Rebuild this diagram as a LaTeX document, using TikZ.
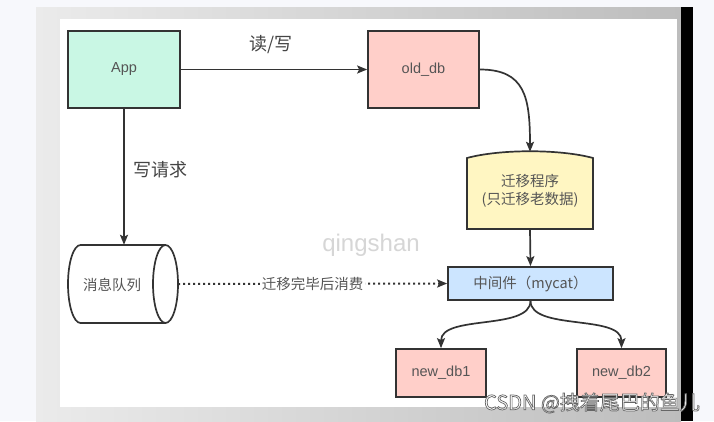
\documentclass[tikz,border=0pt]{standalone}
\usepackage{fontspec}
\setmainfont{Liberation Sans}
\newfontfamily\cjk{Noto Sans CJK SC}
\usetikzlibrary{arrows.meta}
\definecolor{bgout}{HTML}{F7F8FC}
\definecolor{frameL}{HTML}{EBEBEB}
\definecolor{frameR}{HTML}{BDBDBD}
\definecolor{appc}{HTML}{C9F7E4}
\definecolor{dbc}{HTML}{FFCFC9}
\definecolor{migc}{HTML}{FFF6C2}
\definecolor{mwc}{HTML}{CCE5FF}
\definecolor{edge}{HTML}{333333}
\definecolor{txt}{HTML}{555555}
\definecolor{lbl}{HTML}{444444}
\definecolor{wm}{HTML}{D6D6D6}
\begin{document}
\begin{tikzpicture}[x=1pt,y=-1pt,
  box/.style={draw=edge,line width=1.7pt,text=txt,font=\fontsize{14.5}{16}\selectfont,inner sep=0pt},
  plain/.style={inner sep=0pt,text=txt},
  arr/.style={draw=edge,line width=1.7pt,-{Stealth[length=10pt,width=8pt,inset=2pt]}},
  lab/.style={inner sep=1pt,text=lbl,font=\cjk\fontsize{18}{20}\selectfont},
  ctext/.style={font=\cjk\fontsize{14.5}{18}\selectfont}]
\useasboundingbox (0,0) rectangle (714,421);
\fill[bgout] (0,0) rectangle (714,421);
\shade[left color=frameL,right color=frameR] (36,7) rectangle (681,421);
\fill[white] (60,19) rectangle (677,407);
\fill[black] (681,7) rectangle (693,421);

% watermark
\node[inner sep=0pt,text=wm,font=\fontsize{24}{26}\selectfont] (qs) at (371,245) {qingshan};

% nodes
\node[box,fill=appc,minimum width=112pt,minimum height=77pt] (app) at (124,69.5) {App};
\node[box,fill=dbc,minimum width=111pt,minimum height=77pt] (old) at (423.5,69.5) {old\_db};

\fill[migc,draw=edge,line width=1.7pt] (467,229) -- (467,158) .. controls (500,149) and (560,149) .. (593,158) -- (593,229) -- cycle;
\node[plain,ctext,align=center,minimum width=126pt,minimum height=77pt] (mig) at (530,190.5) {迁移程序\\(只迁移老数据)};

\node[box,fill=mwc,minimum width=165pt,minimum height=33pt,font=\cjk\fontsize{14.5}{16}\selectfont] (mw) at (530.5,283.5) {中间件（mycat）};
\node[box,fill=dbc,minimum width=90pt,minimum height=48pt] (nd1) at (441,373) {new\_db1};
\node[box,fill=dbc,minimum width=89pt,minimum height=48pt] (nd2) at (621.5,373) {new\_db2};

\filldraw[fill=white,draw=edge,line width=1.7pt] (165.5,245) -- (80.5,245) arc[start angle=270,end angle=90,x radius=12.5,y radius=39] -- (165.5,323);
\filldraw[fill=white,draw=edge,line width=1.7pt] (165.5,284) ellipse[x radius=12.5,y radius=39];
\node[plain,ctext,minimum width=110pt,minimum height=78pt,text width=0pt] (mq) at (123,284) {};
\node[plain,ctext] (mqt) at (112,285) {消息队列};

% labels
\node[lab] (rw) at (271,45) {读/写};
\node[lab] (wq) at (160,170) {写请求};

% connectors
\draw[arr] (app.east) -- (old.west);
\draw[arr] (old.east) .. controls +(45,0) and +(0,-55) .. (mig.north);
\draw[arr] (mig.south) -- (mw.north);
\draw[arr] (app.south) -- (app.south |- mq.north);
\draw[arr,line width=2pt,dash pattern=on 2pt off 3pt] (mq.east) -- node[fill=white,inner sep=2pt,text=txt,ctext] {迁移完毕后消费} (mw.west);
\draw[arr] (mw.south) .. controls +(0,30) and +(0,-34) .. (nd1.north);
\draw[arr] (mw.south) .. controls +(0,30) and +(0,-34) .. (nd2.north);

% CSDN watermark
\node[inner sep=0pt,font=\cjk\fontsize{20}{22}\selectfont] (csdn) at (592,403) {\special{pdf:literal direct 2 Tr 0.7 w 0.4 0.4 0.4 RG 1 1 1 rg}CSDN @拽着尾巴的鱼儿\special{pdf:literal direct 0 Tr}};
\end{tikzpicture}
\end{document}
